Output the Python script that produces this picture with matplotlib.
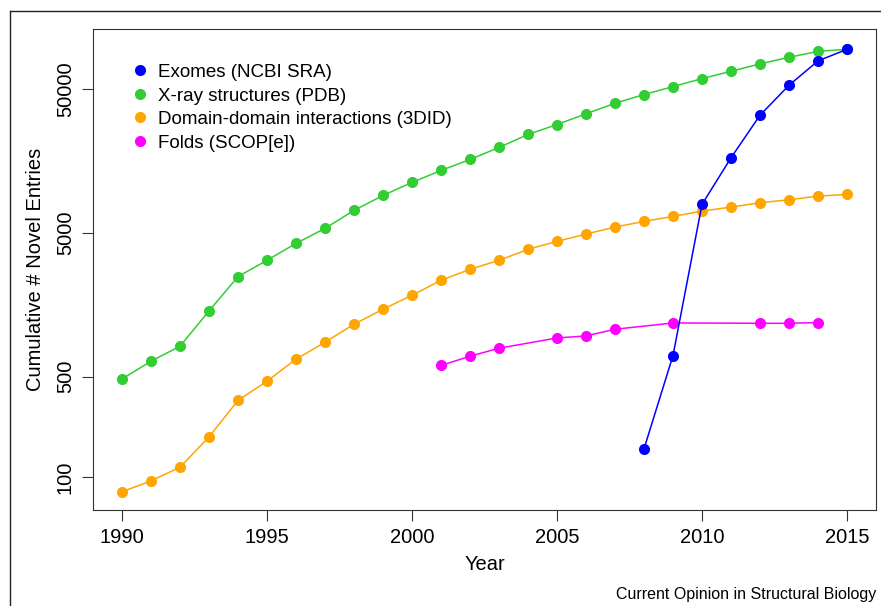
import matplotlib
matplotlib.use('Agg')
import matplotlib.pyplot as plt
from matplotlib.lines import Line2D

plt.rcParams['font.family'] = ['Liberation Sans', 'DejaVu Sans']

# Datos
anios = list(range(1990, 2016))
xray = [481, 639, 812, 1429, 2477, 3213, 4217, 5358, 7147, 9085, 11190, 13550, 16150,
        19580, 24100, 28270, 33560, 39730, 45700, 51890, 58970, 66340, 74620, 82950,
        91250, 94270]
ddi = [79, 94, 117, 190, 341, 464, 660, 866, 1155, 1468, 1836, 2333, 2783, 3213, 3831,
       4355, 4893, 5475, 5995, 6494, 7068, 7537, 8080, 8476, 8985, 9235]
anios_exo = [2008, 2009, 2010, 2011, 2012, 2013, 2014, 2015]
exomas = [157, 700, 7870, 16600, 32800, 53000, 78300, 94270]
anios_folds = [2001, 2002, 2003, 2005, 2006, 2007, 2009, 2012, 2013, 2014]
folds = [597, 692, 787, 927, 958, 1066, 1179, 1173, 1173, 1186]

etiquetas = ['Exomes (NCBI SRA)', 'X-ray structures (PDB)',
             'Domain-domain interactions (3DID)', 'Folds (SCOP[e])']
colores = ['#0000FF', '#32CD32', '#FFA500', '#FF00FF']
xticks = [1990, 1995, 2000, 2005, 2010, 2015]
yticks = [100, 500, 5000, 50000]

fig = plt.figure(figsize=(8.81, 6.06), dpi=100)
ax = fig.add_axes([93/881, 1 - 510/606, (876 - 93)/881, (510 - 29)/606])

series = [(anios_exo, exomas), (anios, xray), (anios, ddi), (anios_folds, folds)]
orden = [1, 2, 3, 0]  # azul dibujado encima
for k in orden:
    xs, ys = series[k]
    ax.plot(xs, ys, '-', color=colores[k], lw=1.1, zorder=2 + (k == 0))
    ax.plot(xs, ys, 'o', color=colores[k], ms=8, mec='none', zorder=2 + (k == 0))

ax.set_yscale('log')
ax.set_xlim(1989, 2016)
ax.set_ylim(59, 130500)
ax.set_xticks(xticks)
ax.set_xticklabels([str(v) for v in xticks], fontsize=14.5)
ax.set_yticks(yticks)
ax.set_yticklabels([str(v) for v in yticks], fontsize=14.5, rotation=90, va='center')
ax.minorticks_off()
ax.tick_params(direction='out', length=8, width=0.8, color='#333333', pad=5)
for s in ax.spines.values():
    s.set_color('#333333')
    s.set_linewidth(0.8)

ax.set_xlabel('Year', fontsize=14.5, labelpad=6)
ax.set_ylabel('Cumulative # Novel Entries', fontsize=14.5, labelpad=8)

# Leyenda sin marco
handles = [Line2D([], [], marker='o', ls='none', color=c, ms=8, mec='none') for c in colores]
ax.legend(handles, etiquetas, loc='upper left', bbox_to_anchor=(0.039, 0.943),
          frameon=False, fontsize=13.5, handletextpad=0.45, labelspacing=0.34,
          handlelength=1.0, borderaxespad=0)

fig.text(0.9943, 0.007, 'Current Opinion in Structural Biology', ha='right', va='bottom',
         fontsize=11.5)

# Marco exterior recortado
fig.add_artist(Line2D([10/881, 10/881], [0, 1 - 11/606], color='#222222', lw=1.0))
fig.add_artist(Line2D([10/881, 1], [1 - 11/606, 1 - 11/606], color='#222222', lw=1.0))

plt.savefig('out.png', dpi=100)
